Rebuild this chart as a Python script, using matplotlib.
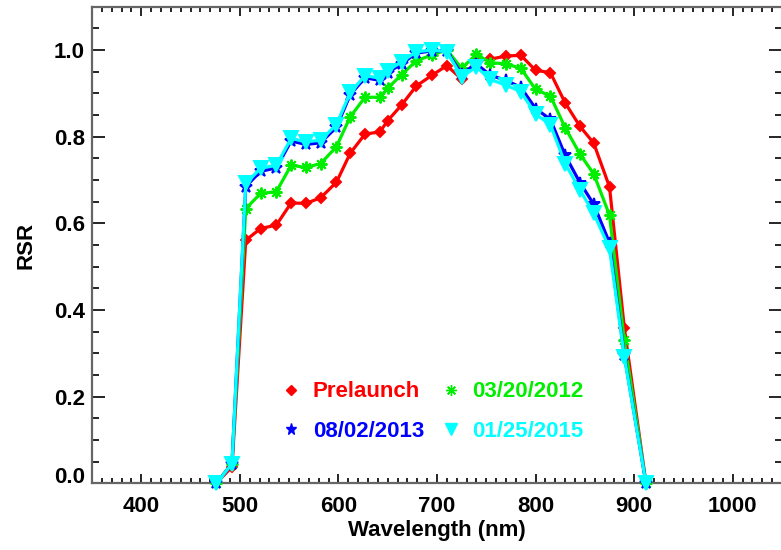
import matplotlib
matplotlib.use("Agg")
import matplotlib.pyplot as plt
from matplotlib.lines import Line2D
from matplotlib.ticker import MultipleLocator

# Wavelength samples (nm) and relative spectral response per epoch
WAVELENGTH = [476, 492, 506, 521, 537, 552, 567, 582, 598, 612, 627, 642, 650, 664, 679,
              695, 710, 725, 740, 754, 770, 785, 800, 815, 830, 845, 859, 875, 890, 912]

RSR_PRELAUNCH = [0.0, 0.038, 0.561, 0.588, 0.596, 0.647, 0.646, 0.659, 0.695, 0.762,
                 0.806, 0.811, 0.837, 0.873, 0.917, 0.942, 0.964, 0.933, 0.976, 0.979,
                 0.986, 0.988, 0.953, 0.948, 0.878, 0.824, 0.785, 0.684, 0.359, 0.0]
RSR_20120320 = [0.0, 0.045, 0.634, 0.669, 0.673, 0.734, 0.729, 0.738, 0.777, 0.846,
                0.891, 0.891, 0.912, 0.943, 0.975, 0.989, 1.0, 0.958, 0.990, 0.971,
                0.968, 0.958, 0.909, 0.894, 0.821, 0.760, 0.714, 0.619, 0.330, 0.0]
RSR_20130802 = [0.0, 0.045, 0.685, 0.720, 0.728, 0.790, 0.782, 0.786, 0.822, 0.897,
                0.936, 0.930, 0.948, 0.968, 0.993, 0.998, 0.997, 0.945, 0.968, 0.942,
                0.930, 0.914, 0.865, 0.840, 0.757, 0.694, 0.644, 0.555, 0.296, 0.0]
RSR_20150125 = [0.0, 0.045, 0.692, 0.727, 0.734, 0.796, 0.788, 0.792, 0.828, 0.902,
                0.941, 0.935, 0.952, 0.973, 0.996, 1.0, 0.996, 0.938, 0.961, 0.932,
                0.919, 0.904, 0.852, 0.828, 0.738, 0.677, 0.623, 0.542, 0.292, 0.0]

SERIES = [
    ("Prelaunch", RSR_PRELAUNCH, "#ff0000", "D", 5.5),
    ("03/20/2012", RSR_20120320, "#00ee00", (8, 2, 0), 8.5),
    ("08/02/2013", RSR_20130802, "#0000ff", "*", 9),
    ("01/25/2015", RSR_20150125, "#00ffff", "v", 9.5),
]

plt.rcParams["font.family"] = ["Liberation Sans", "DejaVu Sans"]

fig = plt.figure(figsize=(7.81, 5.5), dpi=100)
ax = fig.add_axes([0.1178, 0.1213, 0.8835, 0.8665])

for label, values, color, marker, ms in SERIES:
    ax.plot(WAVELENGTH, values, color=color, linewidth=2.3, marker=marker,
            markersize=ms, markeredgewidth=1.4, markeredgecolor=color,
            clip_on=False, zorder=3)

ax.set_xlim(350, 1050)
ax.set_ylim(0, 1.1)
ax.xaxis.set_major_locator(MultipleLocator(100))
ax.xaxis.set_minor_locator(MultipleLocator(10))
ax.yaxis.set_major_locator(MultipleLocator(0.2))
ax.yaxis.set_minor_locator(MultipleLocator(0.05))
ax.yaxis.set_major_formatter(plt.FormatStrFormatter("%.1f"))

ax.tick_params(axis="both", which="both", direction="in", top=True, right=True,
               color="black", width=1.2, labelsize=16)
ax.tick_params(axis="x", which="major", length=6.8, pad=9)
ax.tick_params(axis="x", which="minor", length=3.4)
ax.tick_params(axis="y", which="major", length=9.4, pad=5)
ax.tick_params(axis="y", which="minor", length=4.7)
for lab in ax.get_xticklabels() + ax.get_yticklabels():
    lab.set_fontweight("bold")

for spine in ax.spines.values():
    spine.set_color("#666666")
    spine.set_linewidth(1.6)

ax.set_xlabel("Wavelength (nm)", fontsize=16, fontweight="bold", labelpad=2)
ax.set_ylabel("RSR", fontsize=16, fontweight="bold", labelpad=13)

# marker-only legend, entries ordered so the 2 columns read row by row
order = [0, 2, 1, 3]
handles = []
for i in order:
    label, values, color, marker, ms = SERIES[i]
    handles.append(Line2D([], [], linestyle="none", marker=marker, color=color,
                          markeredgecolor=color, markersize=ms * 0.9, label=label))
leg = ax.legend(handles=handles, ncol=2, loc="center", bbox_to_anchor=(0.494, 0.15),
                frameon=False, handlelength=0.8, handletextpad=0.57, columnspacing=0.8,
                labelspacing=0.85, prop={"size": 16, "weight": "bold"})
for text, i in zip(leg.get_texts(), order):
    text.set_color(SERIES[i][2])

# the bottom "0.0" label sits on the axis rather than centred on it
fig.canvas.draw()
for tick in ax.yaxis.get_major_ticks():
    if abs(tick.get_loc()) < 1e-9:
        tick.label1.set_verticalalignment("baseline")

fig.savefig("out.png", dpi=100)
